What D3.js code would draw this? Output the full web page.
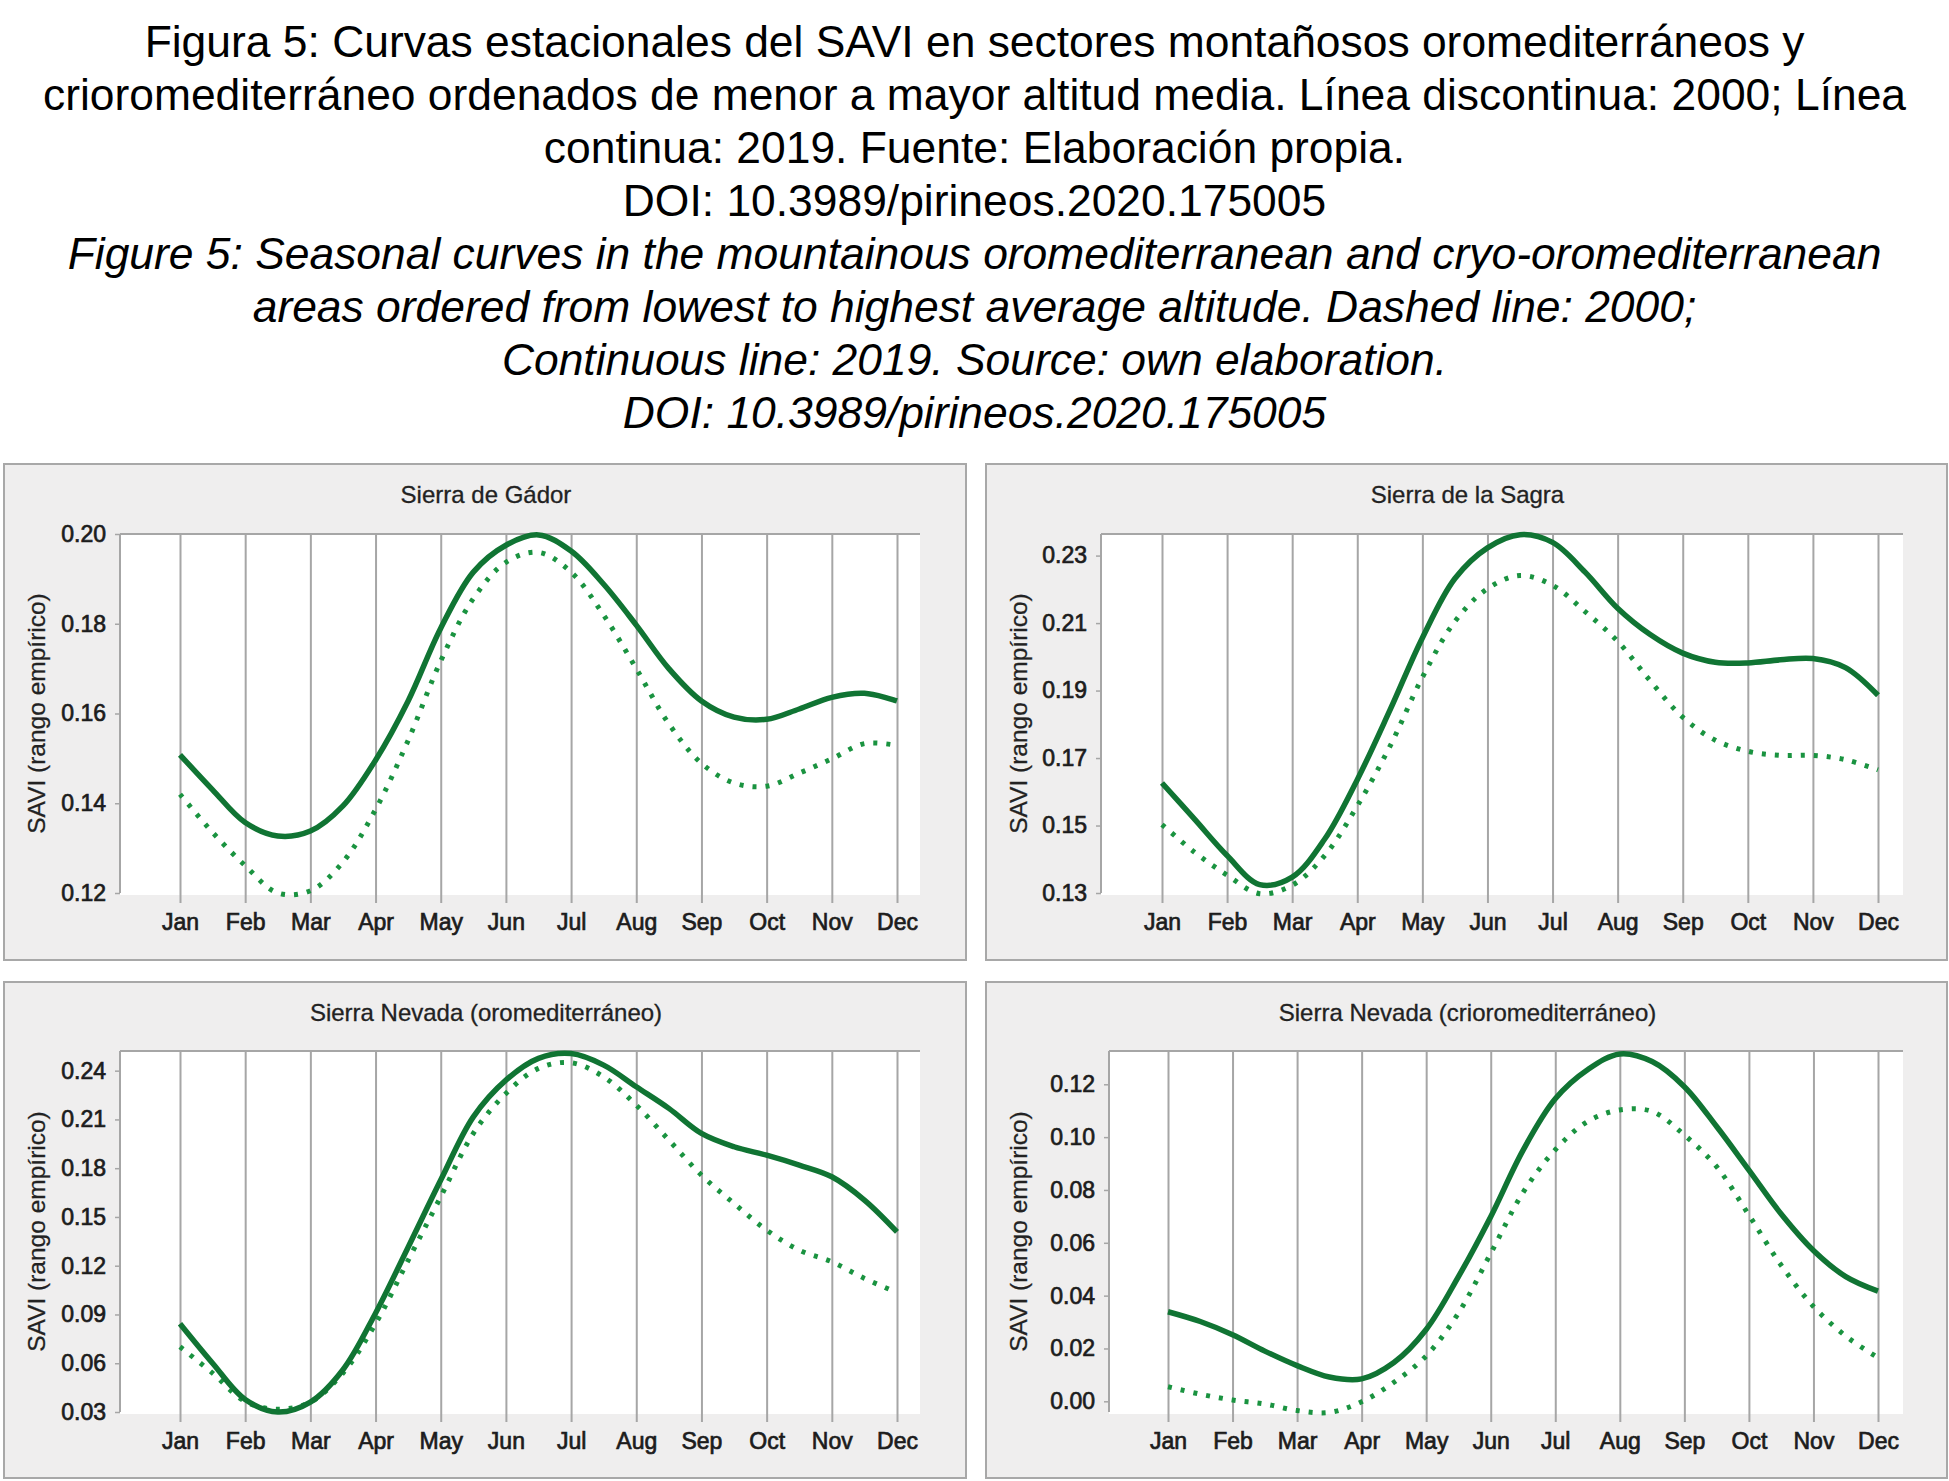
<!DOCTYPE html>
<html lang="es">
<head>
<meta charset="UTF-8">
<title>Figura 5 - SAVI</title>
<script src="https://d3js.org/d3.v7.min.js"></script>
<style>
    body { margin: 0; background: #fff; }
    svg text { font-family: 'Liberation Sans', Arial, sans-serif; }
    .caption { font-size: 44.4px; fill: #000; text-anchor: middle; }
    .caption.en { font-style: italic; }
    .ptitle { font-size: 24px; fill: #222; text-anchor: middle; stroke: #222; stroke-width: 0.3px; }
    .ytitle { font-size: 24.5px; fill: #222; text-anchor: middle; stroke: #222; stroke-width: 0.25px; }
    .tick text { font-size: 23px; fill: #1c1c1c; stroke: #1c1c1c; stroke-width: 0.7px; }
</style>
</head>
<body>
<svg id="chart" width="1949" height="1481"></svg>
<script>
// caption lines (es + en)
const captionEs = [
    "Figura 5: Curvas estacionales del SAVI en sectores montañosos oromediterráneos y",
    "crioromediterráneo ordenados de menor a mayor altitud media. Línea discontinua: 2000; Línea",
    "continua: 2019. Fuente: Elaboración propia.",
    "DOI: 10.3989/pirineos.2020.175005"
];
const captionEn = [
    "Figure 5: Seasonal curves in the mountainous oromediterranean and cryo-oromediterranean",
    "areas ordered from lowest to highest average altitude. Dashed line: 2000;",
    "Continuous line: 2019. Source: own elaboration.",
    "DOI: 10.3989/pirineos.2020.175005"
];

const months = ["Jan","Feb","Mar","Apr","May","Jun","Jul","Aug","Sep","Oct","Nov","Dec"];
const panelNames = ["Sierra de Gádor", "Sierra de la Sagra",
                    "Sierra Nevada (oromediterráneo)", "Sierra Nevada (crioromediterráneo)"];
const yTitle = "SAVI (rango empírico)";

// values every half month, Jan 1 .. Dec 1 (23 points)
const gador2019 = [0.1508,0.1430,0.1357,0.1327,0.1338,0.1394,0.1496,0.1628,0.1790,0.1915,0.1975,0.1998,
                   0.1962,0.1888,0.1797,0.1700,0.1628,0.1592,0.1587,0.1610,0.1636,0.1645,0.1628];
const gador2000 = [0.1420,0.1335,0.1261,0.1200,0.1205,0.1269,0.1386,0.1540,0.1717,0.1856,0.1937,0.1959,
                   0.1915,0.1819,0.1700,0.1577,0.1489,0.1445,0.1438,0.1467,0.1499,0.1533,0.1529];
const sagra2019 = [0.1626,0.1519,0.1411,0.1325,0.1347,0.1460,0.1636,0.1841,0.2056,0.2232,0.2323,0.2362,
                   0.2339,0.2251,0.2144,0.2066,0.2011,0.1984,0.1982,0.1991,0.1995,0.1968,0.1886];
const sagra2000 = [0.1503,0.1421,0.1353,0.1298,0.1323,0.1411,0.1558,0.1734,0.1939,0.2105,0.2202,0.2241,
                   0.2212,0.2134,0.2046,0.1929,0.1821,0.1753,0.1720,0.1708,0.1708,0.1695,0.1665];
const nevadaOro2019 = [0.0843,0.0600,0.0377,0.0300,0.0361,0.0560,0.0908,0.1314,0.1727,0.2116,0.2342,0.2476,
                       0.2505,0.2434,0.2301,0.2168,0.2014,0.1932,0.1880,0.1819,0.1747,0.1604,0.1408];
const nevadaOro2000 = [0.0701,0.0539,0.0365,0.0317,0.0361,0.0540,0.0843,0.1233,0.1624,0.2014,0.2260,0.2414,
                       0.2449,0.2362,0.2188,0.1973,0.1757,0.1583,0.1419,0.1296,0.1224,0.1122,0.1035];
const nevadaCrio2019 = [0.0339,0.0302,0.0252,0.0190,0.0135,0.0092,0.0085,0.0147,0.0272,0.0472,0.0699,0.0950,
                        0.1145,0.1255,0.1315,0.1286,0.1191,0.1040,0.0875,0.0709,0.0571,0.0472,0.0417];
const nevadaCrio2000 = [0.0055,0.0027,0.0005,-0.0010,-0.0035,-0.0042,-0.0002,0.0072,0.0172,0.0334,0.0560,0.0790,
                        0.0952,0.1059,0.1103,0.1097,0.1008,0.0888,0.0705,0.0515,0.0359,0.0247,0.0165];

const series2019 = [gador2019, sagra2019, nevadaOro2019, nevadaCrio2019];
const series2000 = [gador2000, sagra2000, nevadaOro2000, nevadaCrio2000];

const yDomains = [[0.12, 0.20], [0.13, 0.2364], [0.03, 0.2521], [-0.00405, 0.1326]];
const yTicks = [
    [0.12, 0.14, 0.16, 0.18, 0.20],
    [0.13, 0.15, 0.17, 0.19, 0.21, 0.23],
    [0.03, 0.06, 0.09, 0.12, 0.15, 0.18, 0.21, 0.24],
    [0.00, 0.02, 0.04, 0.06, 0.08, 0.10, 0.12]
];

// panel geometry
const layout = [
    {x: 4,   y: 464, w: 962, h: 496, left: 120,  right: 920,  jan: 180,  dec: 897,  top: 534,  bottom: 893},
    {x: 986, y: 464, w: 961, h: 496, left: 1101, right: 1903, jan: 1162, dec: 1878, top: 534,  bottom: 893},
    {x: 4,   y: 982, w: 962, h: 496, left: 120,  right: 920,  jan: 180,  dec: 897,  top: 1051, bottom: 1412},
    {x: 986, y: 982, w: 961, h: 496, left: 1109, right: 1903, jan: 1168, dec: 1878, top: 1051, bottom: 1412}
];

const svg = d3.select("#chart");

// caption
const lineY = [41, 94, 147, 200, 253, 306, 359, 412];
svg.selectAll("text.caption")
    .data(captionEs.map(t => ({t, en: false})).concat(captionEn.map(t => ({t, en: true}))))
    .join("text")
    .attr("class", d => d.en ? "caption en" : "caption")
    .attr("x", 974.5)
    .attr("y", (d, i) => lineY[i])
    .attr("dy", "0.35em")
    .text(d => d.t);

layout.forEach((p, k) => drawPanel(p, k));

function drawPanel(p, k) {
    const g = svg.append("g");
    g.append("rect")
        .attr("x", p.x).attr("y", p.y).attr("width", p.w).attr("height", p.h)
        .attr("fill", "#efeeee").attr("stroke", "#a8a8a8").attr("stroke-width", 2);
    g.append("rect")
        .attr("x", p.left).attr("y", p.top)
        .attr("width", p.right - p.left).attr("height", p.bottom - p.top + 2)
        .attr("fill", "#fff");

    const x = d3.scaleLinear().domain([0, 11]).range([p.jan, p.dec]);
    const y = d3.scaleLinear().domain(yDomains[k]).range([p.bottom, p.top]);

    // month gridlines + labels
    const ax = g.append("g")
        .attr("transform", `translate(0,${p.top})`)
        .call(d3.axisBottom(x)
            .tickValues(d3.range(12))
            .tickFormat(i => months[i])
            .tickSize(p.bottom - p.top + 10));
    ax.select(".domain").remove();
    ax.selectAll(".tick line").attr("stroke", "#a6a6a6").attr("stroke-width", 2);
    ax.selectAll(".tick text").attr("y", p.bottom - p.top + 29).attr("dy", "0.35em");

    // top frame line
    g.append("line")
        .attr("x1", p.left).attr("x2", p.right).attr("y1", p.top).attr("y2", p.top)
        .attr("stroke", "#a6a6a6").attr("stroke-width", 2);

    // y axis
    const ay = g.append("g")
        .attr("transform", `translate(${p.left},0)`)
        .call(d3.axisLeft(y).tickValues(yTicks[k]).tickFormat(d3.format(".2f"))
            .tickSize(5).tickSizeOuter(0).tickPadding(9));
    ay.select(".domain").attr("stroke", "#a6a6a6").attr("stroke-width", 2)
        .attr("d", `M0,${p.top}V${p.bottom}`);
    ay.selectAll(".tick line").attr("stroke", "#a6a6a6").attr("stroke-width", 1.5);

    // titles
    g.append("text").attr("class", "ptitle")
        .attr("x", p.x + p.w / 2 + 1).attr("y", p.y + 31).attr("dy", "0.35em")
        .text(panelNames[k]);
    g.append("text").attr("class", "ytitle")
        .attr("transform", `translate(${p.x + 32},${(p.top + p.bottom) / 2}) rotate(-90)`)
        .attr("dy", "0.35em")
        .text(yTitle);

    const line = d3.line()
        .x((d, i) => x(i / 2))
        .y(d => y(d))
        .curve(d3.curveCatmullRom.alpha(0.5));

    g.append("path").datum(series2000[k])
        .attr("d", line).attr("fill", "none")
        .attr("stroke", "#1a9340").attr("stroke-width", 5)
        .attr("stroke-dasharray", "4 9");
    g.append("path").datum(series2019[k])
        .attr("d", line).attr("fill", "none")
        .attr("stroke", "#107433").attr("stroke-width", 5.5);
}
</script>
</body>
</html>
